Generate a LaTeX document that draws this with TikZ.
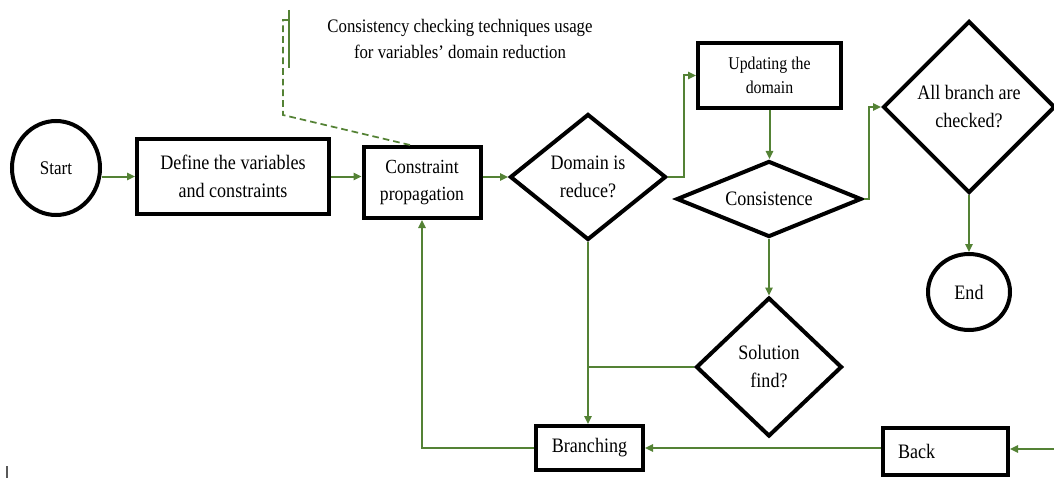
\documentclass[tikz,border=0pt]{standalone}
\usepackage{fontspec}
\setmainfont{Liberation Serif}[FakeStretch=0.88]
\usetikzlibrary{arrows.meta,shapes.geometric}
\definecolor{lg}{RGB}{84,130,53}
\begin{document}
\begin{tikzpicture}[x=0.75pt,y=-0.75pt,
  box/.style={draw=black,line width=3pt,fill=white,inner sep=0pt,align=center,font=\fontsize{15.4pt}{21pt}\selectfont},
  dia/.style={diamond,draw=black,line width=3pt,fill=white,inner sep=0pt,align=center,font=\fontsize{15.4pt}{21pt}\selectfont},
  oval/.style={ellipse,draw=black,line width=3pt,fill=white,inner sep=0pt},
  conn/.style={draw=lg,line width=1.5pt},
  arr/.style={conn,-{Triangle[length=6pt,width=5.5pt]}}]
\useasboundingbox (0,0) rectangle (1054,478);

% nodes
\node[oval,minimum width=66pt,minimum height=70.5pt,font=\fontsize{14.5pt}{18pt}\selectfont] (start) at (56,168) {Start};
\node[box,minimum width=144pt,minimum height=56.25pt] (define) at (233,176.5) {Define the variables\\and constraints};
\node[box,minimum width=87.75pt,minimum height=53.25pt,font=\fontsize{15pt}{20.25pt}\selectfont] (cp) at (422,182.5) {Constraint\\propagation};
\node[dia,minimum width=117pt,minimum height=94.5pt] (dom) at (588,177) {Domain is\\reduce?};
\node[box,minimum width=107.25pt,minimum height=48.75pt,font=\fontsize{13.5pt}{18pt}\selectfont] (upd) at (769.5,75.5) {Updating the\\domain};
\node[dia,aspect=2.6,minimum width=138.75pt,minimum height=57pt] (cons) at (769,199) {Consistence};
\node[dia,minimum width=129pt,minimum height=129pt] (allb) at (969,107) {All branch are\\checked?};
\node[oval,minimum width=61.5pt,minimum height=57pt,font=\fontsize{15.4pt}{21pt}\selectfont] (endc) at (969,292) {End};
\node[dia,minimum width=109.5pt,minimum height=104.25pt] (sol) at (769,367) {Solution\\find?};
\node[box,minimum width=80.25pt,minimum height=33pt] (br) at (589.5,448) {Branching};
\node[box,minimum height=35.25pt,inner xsep=11.25pt,text width=71.25pt,align=left] (back) at (945.5,451.5) {Back};

\node[align=center,font=\fontsize{14.3pt}{19.5pt}\selectfont] (note) at (460,39) {Consistency checking techniques usage\\for variables’ domain reduction};

% free ends
\coordinate (bin) at (1054,449);
\coordinate (c1) at (283,115);
\coordinate (c2) at (283,20);
\coordinate (c3) at (289,20);
\coordinate (b1) at (289,10);
\coordinate (b2) at (289,68);
\coordinate (m1) at (7,466);
\coordinate (m2) at (7,478);

% connectors
\draw[arr] (start.east |- define.west) -- (define.west);
\draw[arr] (define.east) -- (define.east -| cp.west);
\draw[arr] (cp.east |- dom.west) -- (dom.west);
\draw[arr] (dom.east) -- ++(16,0) |- (upd.west);
\draw[arr] (upd.south) -- (upd.south |- cons.north);
\draw[arr] (cons.east) -- ++(5,0) |- (allb.west);
\draw[arr] (allb.south) -- (endc.north);
\draw[arr] (cons.south) -- (sol.north);
\draw[arr] (dom.south) -- (dom.south |- br.north);
\draw[conn] (sol.west) -- (sol.west -| dom.south);
\draw[arr] (bin) -- (bin -| back.east);
\draw[arr] (back.west |- br.east) -- (br.east);
\draw[arr] (br.west) -| (cp.south);

% callout
\draw[conn,line width=1.3pt,dashed,dash pattern=on 5pt off 3pt] ([xshift=-9pt]cp.north) -- (c1) -- (c2) -- (c3);
\draw[conn] (b1) -- (b2);
\draw[gray!70!black,line width=1pt] (m1) -- (m2);
\end{tikzpicture}
\end{document}
